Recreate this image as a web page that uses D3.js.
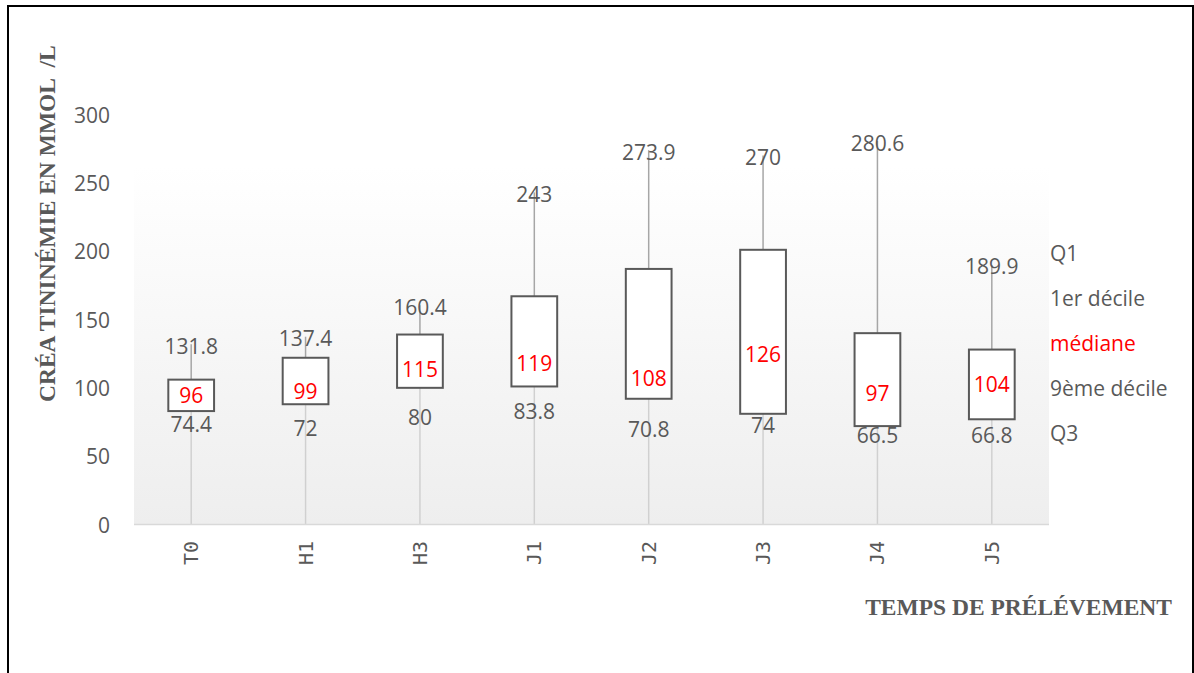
<!DOCTYPE html>
<html lang="fr">
<head>
<meta charset="UTF-8">
<script src="https://cdn.jsdelivr.net/npm/d3@7"></script>
<style>
  body { margin: 0; background: #fff; }
  svg text { font-family: "Open Sans", sans-serif; }
</style>
</head>
<body>
<svg id="chart" width="1194" height="673"></svg>
<script>
// data
const categories = ["T0", "H1", "H3", "J1", "J2", "J3", "J4", "J5"];
const maxVals    = [131.8, 137.4, 160.4, 243, 273.9, 270, 280.6, 189.9];
const boxTop     = [106, 122, 139, 167, 187, 201, 140, 128];
const medians    = [96, 99, 115, 119, 108, 126, 97, 104];
const boxBottom  = [83, 88, 100, 101, 92, 81, 72, 77];
const lowVals    = [74.4, 72, 80, 83.8, 70.8, 74, 66.5, 66.8];
const yTicks     = [0, 50, 100, 150, 200, 250, 300];
const legendItems = ["Q1", "1er décile", "médiane", "9ème décile", "Q3"];

const grey = "#595959";
const svg = d3.select("#chart");

// outer frame
svg.append("rect")
  .attr("x", 8).attr("y", 6)
  .attr("width", 1185).attr("height", 680)
  .attr("fill", "none").attr("stroke", "#000").attr("stroke-width", 2);

// plot area
const plot = {left: 134, right: 1049, top: 167, bottom: 524.5};

const defs = svg.append("defs");
const grad = defs.append("linearGradient")
  .attr("id", "bg").attr("x1", 0).attr("y1", 0).attr("x2", 0).attr("y2", 1);
grad.append("stop").attr("offset", "0%").attr("stop-color", "#ffffff");
grad.append("stop").attr("offset", "100%").attr("stop-color", "#eeeeee");

svg.append("rect")
  .attr("x", plot.left).attr("y", plot.top)
  .attr("width", plot.right - plot.left).attr("height", plot.bottom - plot.top)
  .attr("fill", "url(#bg)");

// scales
const x = d3.scaleBand().domain(categories).range([plot.left, plot.right]);
const y = d3.scaleLinear().domain([0, 300]).range([plot.bottom, 114.5]);

const rows = categories.map((c, i) => ({
  cat: c, max: maxVals[i], top: boxTop[i], med: medians[i],
  bot: boxBottom[i], low: lowVals[i]
}));
const cx = d => x(d.cat) + x.bandwidth() / 2;
const boxW = x.bandwidth() * 0.4;

// lower lines (box bottom down to axis)
svg.selectAll(".low-line").data(rows).join("line")
  .attr("x1", cx).attr("x2", cx)
  .attr("y1", d => y(d.bot)).attr("y2", y(0))
  .attr("stroke", "#d0d0d0").attr("stroke-width", 1.5);

// upper whiskers
svg.selectAll(".whisker").data(rows).join("line")
  .attr("x1", cx).attr("x2", cx)
  .attr("y1", d => y(d.top)).attr("y2", d => y(d.max))
  .attr("stroke", "#a6a6a6").attr("stroke-width", 1.5);

// x axis line
svg.append("line")
  .attr("x1", plot.left).attr("x2", plot.right)
  .attr("y1", y(0)).attr("y2", y(0))
  .attr("stroke", "#d9d9d9").attr("stroke-width", 1.5);

// boxes
svg.selectAll(".box").data(rows).join("rect")
  .attr("x", d => cx(d) - boxW / 2)
  .attr("y", d => y(d.top))
  .attr("width", boxW)
  .attr("height", d => y(d.bot) - y(d.top))
  .attr("fill", "#fff").attr("stroke", grey).attr("stroke-width", 2);

// data labels
function labels(key, color) {
  svg.selectAll(".lbl-" + key).data(rows).join("text")
    .attr("x", cx)
    .attr("y", d => y(d[key]) + 1.5)
    .attr("text-anchor", "middle")
    .attr("dominant-baseline", "central")
    .attr("font-size", 21)
    .attr("fill", color)
    .text(d => d[key]);
}
labels("max", grey);
labels("low", grey);
labels("med", "#ff0000");

// y axis tick labels
svg.selectAll(".ytick").data(yTicks).join("text")
  .attr("x", 110)
  .attr("y", d => y(d))
  .attr("text-anchor", "end")
  .attr("dominant-baseline", "central")
  .attr("font-size", 21)
  .attr("fill", grey)
  .text(d => d);

// x tick labels (rotated)
svg.selectAll(".xtick").data(categories).join("text")
  .attr("transform", d => `translate(${x(d) + x.bandwidth() / 2},541) rotate(-90)`)
  .attr("text-anchor", "end")
  .attr("dominant-baseline", "central")
  .attr("font-size", 20)
  .attr("fill", grey)
  .style("font-family", "'DejaVu Sans Mono', monospace")
  .text(d => d);

// legend on the right
svg.selectAll(".legend").data(legendItems).join("text")
  .attr("x", 1050)
  .attr("y", (d, i) => 253 + i * 45)
  .attr("dominant-baseline", "central")
  .attr("font-size", 21)
  .attr("fill", d => d === "médiane" ? "#ff0000" : grey)
  .text(d => d);

// axis titles
svg.append("text")
  .attr("transform", "translate(47,402) rotate(-90)")
  .attr("dominant-baseline", "central")
  .attr("font-size", 23.5)
  .attr("font-weight", "bold")
  .attr("fill", grey)
  .style("font-family", "'Liberation Serif', serif")
  .text("CRÉA TININÉMIE EN MMOL  /L")
  .attr("xml:space", "preserve");

svg.append("text")
  .attr("x", 1172).attr("y", 607)
  .attr("text-anchor", "end")
  .attr("dominant-baseline", "central")
  .attr("font-size", 23.5)
  .attr("font-weight", "bold")
  .attr("fill", grey)
  .style("font-family", "'Liberation Serif', serif")
  .text("TEMPS DE PRÉLÉVEMENT");
</script>
</body>
</html>
